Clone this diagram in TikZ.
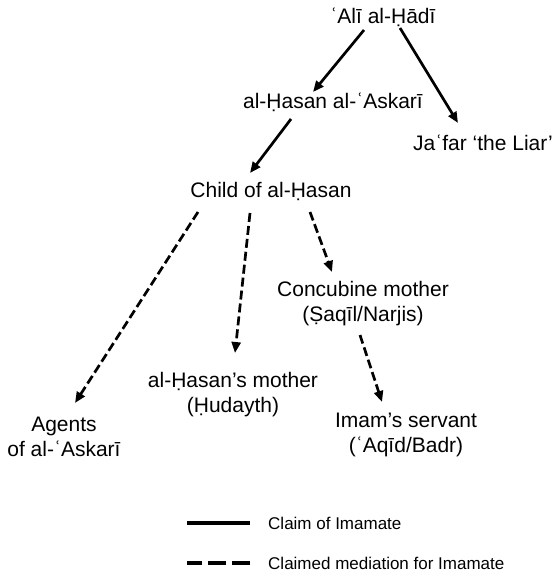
\documentclass[tikz,border=0pt]{standalone}
\usepackage{fontspec}
\setmainfont{Liberation Sans}
\usetikzlibrary{arrows.meta,positioning}

\begin{document}
\begin{tikzpicture}[
        x=1pt, y=-1pt,
        person/.style={font=\fontsize{21}{25}\selectfont, align=center, inner sep=0pt},
        claim/.style={-{Triangle[length=11pt,width=9pt]}, line width=2.7pt},
        mediation/.style={claim, dash pattern=on 9pt off 4pt},
        legendline/.style={line width=3.6pt},
        legendtext/.style={font=\fontsize{17}{20}\selectfont, inner sep=0pt}
    ]
        \useasboundingbox (0,0) rectangle (556,577);

        % Line of the Imams
        \node[person] (hadi) at (383,17) {ʿAlī al-Ḥādī};
        \node[person] (askari) at (333,102) {al-Ḥasan al-ʿAskarī};
        \node[person] (jafar) at (483,143) {Jaʿfar ‘the Liar’};
        \node[person] (child) at (271,191) {Child of al-Ḥasan};

        % Mediators
        \node[person] (concubine) at (363,304) {Concubine mother\\(Ṣaqīl/Narjis)};
        \node[person] (mother) at (233,395) {al-Ḥasan’s mother\\(Ḥudayth)};
        \node[person] (agents) at (64,437) {Agents\\of al-ʿAskarī};
        \node[person] (servant) at (406,435) {Imam’s servant\\(ʿAqīd/Badr)};

        % Arrows
        \draw[claim] ([shift={(-19,13)}]hadi.center) -- ([shift={(-20,-10)}]askari.center);
        \draw[claim] ([shift={(17,11)}]hadi.center) -- ([shift={(-25,-20)}]jafar.center);
        \draw[claim] ([shift={(-42,17)}]askari.center) -- ([shift={(-21,-18)}]child.center);

        \draw[mediation] ([shift={(-73,21)}]child.center) -- ([shift={(11,-34)}]agents.center);
        \draw[mediation] ([shift={(-21,22)}]child.center) -- ([shift={(2,-42)}]mother.center);
        \draw[mediation] ([shift={(39,21)}]child.center) -- ([shift={(-31,-32)}]concubine.center);
        \draw[mediation] ([shift={(-3,31)}]concubine.center) -- ([shift={(-24,-33)}]servant.center);

        % Legend
        \coordinate (solidstart) at (187,523);
        \coordinate (solidend) at (250,523);
        \coordinate (dashstart) at (187,563);
        \coordinate (dashend) at (250,563);
        \draw[legendline] (solidstart) -- (solidend);
        \draw[legendline, dash pattern=on 18pt off 6pt] (dashend) -- (dashstart);
        \node[legendtext, right=18pt of solidend] (claimtext) {Claim of Imamate};
        \node[legendtext, right=18pt of dashend] (mediationtext) {Claimed mediation for Imamate};
    \end{tikzpicture}
\end{document}
